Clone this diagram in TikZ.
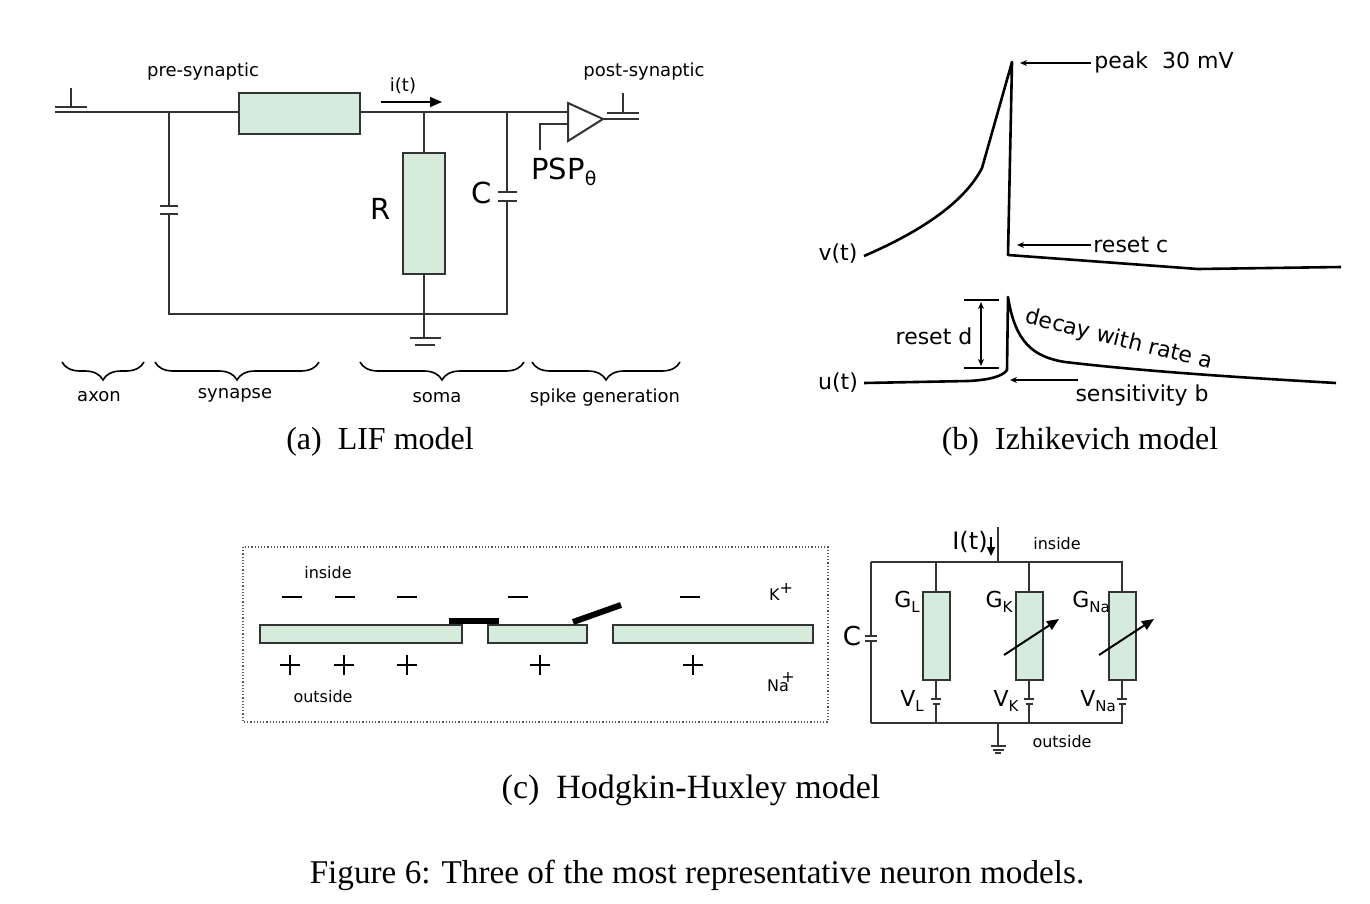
\documentclass[tikz,border=0pt]{standalone}
\usepackage{fontspec}
\setmainfont{Liberation Serif}
\newfontfamily\dv{DejaVu Sans}
\usetikzlibrary{arrows.meta,decorations.pathreplacing}
\definecolor{memgreen}{HTML}{D5ECDC}
\definecolor{wirec}{HTML}{333333}
\newcommand\sbs[1]{\raisebox{-0.45ex}{\fontsize{7.5}{7.5}\selectfont #1}}
\begin{document}
\begin{tikzpicture}[x=0.5pt,y=-0.5pt,
  wr/.style={draw=wirec,line width=1pt},
  gbox/.style={draw=wirec,fill=memgreen,line width=1pt,inner sep=0pt,outer sep=0pt},
  curve/.style={draw=black,line width=1.3pt,line join=round},
  thinarrow/.style={draw=black,line width=0.6pt,-{Stealth[length=3.5pt,width=3pt]}},
  lblA/.style={font=\dv\fontsize{9}{9}\selectfont,inner sep=0pt},
  lblB/.style={font=\dv\fontsize{11}{11}\selectfont,inner sep=0pt},
  lblC/.style={font=\dv\fontsize{8}{8}\selectfont,inner sep=0pt},
  big/.style={font=\dv\fontsize{14.5}{14.5}\selectfont,inner sep=0pt},
  captxt/.style={font=\fontsize{16}{16}\selectfont,inner sep=0pt},
  bracest/.style={draw=black,line width=0.8pt,decorate,decoration={brace,mirror,amplitude=9pt}}]
\fill[white] (0,0) rectangle (1370,904);
\useasboundingbox (0,0) rectangle (1370,904);

% ================= (a) LIF model =================
\node[lblA] (pre) at (203,72) {pre-synaptic};
\node[lblA] (post) at (644,72) {post-synaptic};
\node[lblA] (it) at (403,86) {i(t)};
\coordinate (ia) at (381,102);
\coordinate (ib) at (442,102);
\draw[draw=black,line width=0.9pt,-{Triangle[length=6pt,width=5pt]}] (ia) -- (ib);

% left terminal
\draw[wr] (55,107) -- (87,107);
\draw[wr] (71,88) -- (71,107);
% top wire
\draw[wr] (55,112) -- (568,112);
% synapse box
\node[gbox,minimum width=60.5pt,minimum height=20.5pt] (syn) at (299.5,113.5) {};
% synaptic capacitor
\draw[wr] (169,112) -- (169,206);
\draw[wr] (160,206) -- (178,206);
\draw[wr] (160,214) -- (178,214);
\draw[wr] (169,214) -- (169,314) -- (507,314) -- (507,201);
% soma R
\node[gbox,minimum width=21pt,minimum height=60.5pt] (R) at (424,213.5) {};
\draw[wr] (424,112) -- (R.north);
\draw[wr] (R.south) -- (424,338);
\draw[wr] (410,338) -- (441,338);
\draw[wr] (415,345) -- (435,345);
\node[big] (Rl) at (381,209) {R};
% soma C
\draw[wr] (498,201) -- (517,201);
\draw[wr] (498,192) -- (517,192);
\draw[wr] (507,192) -- (507,112);
\node[big] (Cl) at (482,193) {C};
% comparator
\draw[wr,fill=white] (568,103) -- (603,119) -- (568,141) -- cycle;
\coordinate (ap) at (603,119);
\draw[wr] (568,124) -- (540,124) -- (540,150);
\node[font=\dv\fontsize{14.5}{14.5}\selectfont,inner sep=0pt] (psp) at (564,172) {PSP\raisebox{-0.35ex}{\fontsize{9.5}{9.5}\selectfont θ}};
% output terminal
\draw[wr] (ap) -- (639,119);
\draw[wr] (607,113) -- (639,113);
\draw[wr] (623,93) -- (623,113);

% braces
\draw[bracest] (62,362) -- (144,362);
\draw[bracest] (155,362) -- (319,362);
\draw[bracest] (360,362) -- (524,362);
\draw[bracest] (532,362) -- (680,362);
\node[lblA] (axon) at (99,397) {axon};
\node[lblA] (synl) at (235,395) {synapse};
\node[lblA] (soma) at (437,398) {soma};
\node[lblA] (spk) at (605,398) {spike generation};
\node[captxt] (capa) at (380,442) {(a)\enspace LIF model};

% ================= (b) Izhikevich =================
\node[lblB] (vt) at (838,254) {v(t)};
\node[lblB] (ut) at (838,383) {u(t)};
\draw[curve] (864,256) .. controls (915,234) and (963,205) .. (982,168) -- (1012,62) -- (1008,255) -- (1198,269) -- (1341,267);
\draw[curve] (864,383) -- (968,381) .. controls (990,380) and (1003,376) .. (1007,370) -- (1008,297)
  .. controls (1015,342) and (1033,357) .. (1065,362) .. controls (1150,372) and (1250,378) .. (1336,383);
\coordinate (pk1) at (1091,63);
\coordinate (pk2) at (1020,63);
\draw[thinarrow] (pk1) -- (pk2);
\node[lblB,anchor=west] (peak) at (1094,62) {peak\ \ 30 mV};
\coordinate (rc1) at (1091,245);
\coordinate (rc2) at (1017,245);
\draw[thinarrow] (rc1) -- (rc2);
\node[lblB,anchor=west] (resc) at (1093,245) {reset c};
\coordinate (sb1) at (1078,380);
\coordinate (sb2) at (1010,380);
\draw[thinarrow] (sb1) -- (sb2);
\node[lblB] (sens) at (1142,395) {sensitivity b};
\draw[draw=black,line width=0.8pt] (964,300) -- (999,300);
\draw[draw=black,line width=0.8pt] (964,368) -- (999,368);
\coordinate (rd1) at (981,302);
\coordinate (rd2) at (981,366);
\draw[draw=black,line width=0.6pt,{Stealth[length=3.5pt,width=3pt]}-{Stealth[length=3.5pt,width=3pt]}] (rd1) -- (rd2);
\node[lblB] (resd) at (934,336) {reset d};
\node[lblB,rotate=-14] (decay) at (1119,340) {decay with rate a};
\node[captxt] (capb) at (1080,442) {(b)\enspace Izhikevich model};

% ================= (c) Hodgkin-Huxley =================
\draw[draw=gray!70!black,line width=0.6pt,densely dotted] (243,547) rectangle (828,722);
\node[lblC] (ins) at (328,573) {inside};
\node[lblC] (outs) at (323,697) {outside};
\node[gbox,minimum width=101pt,minimum height=9pt] (m1) at (361,634) {};
\node[gbox,minimum width=49.5pt,minimum height=9pt] (m2) at (537.5,634) {};
\node[gbox,minimum width=100pt,minimum height=9pt] (m3) at (713,634) {};
\draw[draw=black,line width=3pt] (449,621) -- (499,621);
\draw[draw=black,line width=3pt] (573,622) -- (621,605);
\foreach \x in {292,345,407,518,690} \draw[draw=black,line width=1pt] (\x-10,597) -- (\x+10,597);
\foreach \x in {290,344,407,540,693} {\draw[draw=black,line width=1pt] (\x-10,665) -- (\x+10,665); \draw[draw=black,line width=1pt] (\x,655) -- (\x,675);}
\node[lblC] (kp) at (781,592) {K\raisebox{0.8ex}{+}};
\node[lblC] (nap) at (778,682) {N\rlap{\raisebox{1.1ex}{\kern0.15em+}}a};

% right circuit
\draw[wr] (871,562) -- (1123,562);
\draw[wr] (871,723) -- (1123,723);
\draw[wr] (871,562) -- (871,636);
\draw[wr] (865,636) -- (877,636);
\draw[wr] (865,641) -- (877,641);
\draw[wr] (871,641) -- (871,723);
\node[font=\dv\fontsize{13}{13}\selectfont,inner sep=0pt] (Cr) at (852,636) {C};
\foreach \xx/\nm in {936/L,1029/K,1122/N} {
  \node[gbox,minimum width=13.5pt,minimum height=44pt] (g\nm) at (\xx,636) {};
  \draw[wr] (\xx,562) -- (g\nm.north);
  \draw[wr] (g\nm.south) -- (\xx,699);
  \draw[wr] (\xx-5,699) -- (\xx+5,699);
  \draw[wr] (\xx-3.5,704) -- (\xx+3.5,704);
  \draw[wr] (\xx,704) -- (\xx,723);
}
\draw[draw=black,line width=1pt,-{Triangle[length=6pt,width=5pt]}] (1004,655) -- (1059,619);
\draw[draw=black,line width=1pt,-{Triangle[length=6pt,width=5pt]}] (1099,655) -- (1154,619);
\node[lblB] (GL) at (907,602) {G\sbs{L}};
\node[lblB] (GK) at (999,602) {G\sbs{K}};
\node[lblB] (GN) at (1091,602) {G\sbs{Na}};
\node[lblB] (VL) at (912,701) {V\sbs{L}};
\node[lblB] (VK) at (1006,701) {V\sbs{K}};
\node[lblB] (VN) at (1098,701) {V\sbs{Na}};
% I(t)
\draw[wr] (998,527) -- (998,562);
\coordinate (ia1) at (991,537);
\coordinate (ia2) at (991,556);
\draw[draw=black,line width=0.8pt,-{Triangle[length=4.5pt,width=4pt]}] (ia1) -- (ia2);
\node[font=\dv\fontsize{12}{12}\selectfont,inner sep=0pt] (It) at (970,542) {I(t)};
\node[lblC] (insr) at (1057,544) {inside};
\node[lblC] (outr) at (1062,742) {outside};
% ground
\draw[wr] (998,723) -- (998,746);
\draw[wr] (991,746) -- (1006,746);
\draw[wr] (993,749.5) -- (1004,749.5);
\draw[wr] (995,753) -- (1001,753);
\node[font=\fontsize{17}{17}\selectfont,inner sep=0pt] (capc) at (691,790) {(c)\enspace Hodgkin-Huxley model};

\node[font=\fontsize{16.6}{16.6}\selectfont,inner sep=0pt] (fig) at (697,875) {Figure 6: Three of the most representative neuron models.};
\end{tikzpicture}
\end{document}
